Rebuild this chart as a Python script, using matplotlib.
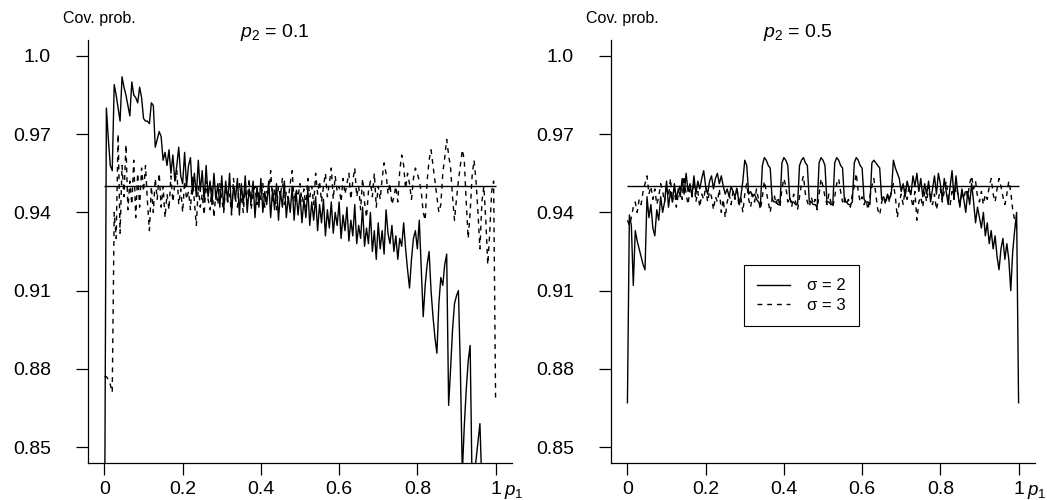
import numpy as np
import matplotlib
matplotlib.use("Agg")
import matplotlib.pyplot as plt

plt.rcParams['font.family'] = ['Liberation Sans', 'DejaVu Sans']
plt.rcParams['mathtext.fontset'] = 'custom'
plt.rcParams['mathtext.rm'] = 'Liberation Sans'
plt.rcParams['mathtext.it'] = 'Liberation Sans:italic'

# grid of p1 values (step 0.005)
p1 = np.round(np.arange(201) * 0.005, 3)

# coverage probability, p2 = 0.1
left_sig2 = [
    0.800, 0.980, 0.968, 0.958, 0.956, 0.989, 0.985, 0.980, 0.975, 0.992, 0.988, 0.985, 0.981, 0.977, 0.990, 0.985, 0.984, 0.982, 0.988, 0.984,
    0.976, 0.975, 0.975, 0.974, 0.982, 0.981, 0.965, 0.968, 0.971, 0.969, 0.960, 0.963, 0.958, 0.964, 0.955, 0.962, 0.952, 0.958, 0.965, 0.954,
    0.951, 0.963, 0.950, 0.958, 0.961, 0.947, 0.955, 0.946, 0.960, 0.948, 0.956, 0.944, 0.958, 0.946, 0.952, 0.943, 0.955, 0.945, 0.951, 0.942,
    0.954, 0.941, 0.952, 0.944, 0.955, 0.940, 0.950, 0.945, 0.953, 0.939, 0.951, 0.943, 0.954, 0.940, 0.949, 0.944, 0.952, 0.938, 0.950, 0.942,
    0.953, 0.940, 0.948, 0.943, 0.952, 0.938, 0.949, 0.941, 0.951, 0.937, 0.948, 0.942, 0.952, 0.938, 0.946, 0.940, 0.950, 0.937, 0.948, 0.939,
    0.947, 0.936, 0.945, 0.938, 0.949, 0.935, 0.944, 0.937, 0.946, 0.933, 0.943, 0.936, 0.945, 0.931, 0.941, 0.934, 0.944, 0.932, 0.940, 0.935,
    0.944, 0.930, 0.939, 0.933, 0.942, 0.929, 0.937, 0.931, 0.943, 0.928, 0.935, 0.930, 0.942, 0.927, 0.934, 0.928, 0.940, 0.925, 0.933, 0.922,
    0.936, 0.926, 0.933, 0.924, 0.941, 0.932, 0.928, 0.935, 0.925, 0.931, 0.922, 0.930, 0.927, 0.936, 0.926, 0.918, 0.911, 0.922, 0.930, 0.933,
    0.926, 0.937, 0.918, 0.900, 0.912, 0.920, 0.925, 0.910, 0.900, 0.892, 0.886, 0.905, 0.915, 0.912, 0.920, 0.924, 0.866, 0.880, 0.895, 0.905,
    0.908, 0.910, 0.880, 0.840, 0.858, 0.872, 0.883, 0.889, 0.835, 0.840, 0.845, 0.852, 0.859, 0.835, 0.820, 0.820, 0.820, 0.820, 0.820, 0.820,
    0.800,
]
left_sig3 = [
    0.877, 0.877, 0.876, 0.874, 0.871, 0.940, 0.930, 0.970, 0.932, 0.958, 0.946, 0.966, 0.941, 0.952, 0.943, 0.960, 0.938, 0.955, 0.942, 0.957,
    0.948, 0.958, 0.944, 0.933, 0.950, 0.940, 0.953, 0.945, 0.955, 0.942, 0.950, 0.938, 0.947, 0.941, 0.954, 0.944, 0.951, 0.956, 0.943, 0.949,
    0.940, 0.952, 0.945, 0.948, 0.941, 0.954, 0.944, 0.935, 0.950, 0.942, 0.947, 0.939, 0.952, 0.945, 0.941, 0.950, 0.938, 0.948, 0.943, 0.951,
    0.945, 0.940, 0.950, 0.944, 0.947, 0.939, 0.953, 0.945, 0.942, 0.951, 0.946, 0.940, 0.949, 0.944, 0.953, 0.941, 0.947, 0.950, 0.943, 0.948,
    0.945, 0.951, 0.942, 0.948, 0.946, 0.956, 0.944, 0.949, 0.941, 0.950, 0.946, 0.953, 0.943, 0.948, 0.945, 0.951, 0.956, 0.944, 0.949, 0.946,
    0.951, 0.944, 0.949, 0.942, 0.953, 0.946, 0.950, 0.943, 0.955, 0.947, 0.952, 0.944, 0.950, 0.955, 0.946, 0.951, 0.957, 0.945, 0.954, 0.948,
    0.950, 0.944, 0.953, 0.947, 0.951, 0.955, 0.945, 0.952, 0.957, 0.946, 0.950, 0.941, 0.953, 0.944, 0.938, 0.948, 0.952, 0.946, 0.955, 0.942,
    0.950, 0.945, 0.953, 0.959, 0.955, 0.947, 0.951, 0.943, 0.946, 0.950, 0.944, 0.956, 0.962, 0.958, 0.949, 0.955, 0.951, 0.945, 0.953, 0.957,
    0.955, 0.952, 0.948, 0.940, 0.937, 0.952, 0.960, 0.964, 0.958, 0.952, 0.946, 0.940, 0.943, 0.955, 0.961, 0.968, 0.962, 0.957, 0.946, 0.937,
    0.945, 0.952, 0.958, 0.964, 0.960, 0.944, 0.930, 0.940, 0.954, 0.960, 0.952, 0.940, 0.926, 0.944, 0.950, 0.937, 0.920, 0.932, 0.948, 0.952,
    0.869,
]

# coverage probability, p2 = 0.5
right_sig2 = [
    0.867, 0.939, 0.935, 0.912, 0.933, 0.929, 0.926, 0.923, 0.920, 0.918, 0.946, 0.938, 0.943, 0.934, 0.931, 0.941, 0.937, 0.946, 0.940, 0.944,
    0.952, 0.942, 0.948, 0.944, 0.951, 0.945, 0.949, 0.946, 0.953, 0.947, 0.955, 0.948, 0.951, 0.946, 0.954, 0.947, 0.952, 0.949, 0.953, 0.956,
    0.950, 0.947, 0.952, 0.954, 0.949, 0.953, 0.955, 0.951, 0.954, 0.950, 0.947, 0.949, 0.946, 0.950, 0.948, 0.946, 0.949, 0.944, 0.946, 0.952,
    0.960, 0.958, 0.947, 0.948, 0.946, 0.947, 0.945, 0.944, 0.943, 0.958, 0.961, 0.960, 0.958, 0.957, 0.945, 0.944, 0.944, 0.943, 0.943, 0.959,
    0.961, 0.960, 0.958, 0.945, 0.944, 0.944, 0.943, 0.943, 0.958, 0.960, 0.961, 0.959, 0.958, 0.944, 0.944, 0.943, 0.943, 0.942, 0.959, 0.961,
    0.960, 0.958, 0.944, 0.944, 0.943, 0.943, 0.959, 0.961, 0.960, 0.958, 0.957, 0.944, 0.944, 0.943, 0.943, 0.944, 0.959, 0.961, 0.960, 0.958,
    0.957, 0.945, 0.944, 0.944, 0.943, 0.959, 0.960, 0.959, 0.958, 0.957, 0.945, 0.946, 0.944, 0.947, 0.945, 0.948, 0.960, 0.957, 0.955, 0.953,
    0.948, 0.951, 0.946, 0.952, 0.949, 0.947, 0.954, 0.950, 0.955, 0.948, 0.953, 0.946, 0.951, 0.947, 0.952, 0.944, 0.949, 0.954, 0.947, 0.955,
    0.951, 0.945, 0.953, 0.948, 0.943, 0.950, 0.956, 0.945, 0.954, 0.947, 0.942, 0.949, 0.945, 0.940, 0.948, 0.943, 0.951, 0.944, 0.936, 0.942,
    0.938, 0.934, 0.940, 0.931, 0.936, 0.928, 0.933, 0.926, 0.931, 0.923, 0.918, 0.926, 0.930, 0.922, 0.928, 0.922, 0.910, 0.925, 0.933, 0.940,
    0.867,
]
right_sig3 = [
    0.937, 0.935, 0.938, 0.942, 0.944, 0.940, 0.945, 0.943, 0.948, 0.951, 0.954, 0.947, 0.950, 0.945, 0.949, 0.943, 0.946, 0.951, 0.948, 0.944,
    0.950, 0.946, 0.953, 0.944, 0.949, 0.942, 0.947, 0.951, 0.945, 0.954, 0.947, 0.943, 0.949, 0.946, 0.952, 0.944, 0.948, 0.942, 0.947, 0.945,
    0.950, 0.944, 0.948, 0.946, 0.941, 0.946, 0.944, 0.949, 0.940, 0.945, 0.938, 0.944, 0.947, 0.943, 0.948, 0.945, 0.950, 0.942, 0.946, 0.940,
    0.947, 0.951, 0.945, 0.942, 0.947, 0.944, 0.949, 0.945, 0.941, 0.946, 0.952, 0.948, 0.944, 0.940, 0.945, 0.947, 0.943, 0.946, 0.942, 0.949,
    0.953, 0.950, 0.944, 0.946, 0.942, 0.947, 0.944, 0.941, 0.946, 0.951, 0.954, 0.947, 0.944, 0.942, 0.946, 0.943, 0.945, 0.941, 0.947, 0.953,
    0.950, 0.946, 0.943, 0.947, 0.944, 0.942, 0.946, 0.951, 0.953, 0.948, 0.944, 0.946, 0.943, 0.945, 0.942, 0.947, 0.950, 0.955, 0.948, 0.944,
    0.946, 0.943, 0.945, 0.941, 0.946, 0.950, 0.953, 0.947, 0.941, 0.939, 0.944, 0.946, 0.943, 0.947, 0.944, 0.948, 0.951, 0.946, 0.938, 0.944,
    0.947, 0.943, 0.949, 0.945, 0.950, 0.946, 0.942, 0.948, 0.937, 0.944, 0.946, 0.942, 0.948, 0.944, 0.950, 0.946, 0.943, 0.947, 0.941, 0.945,
    0.949, 0.944, 0.948, 0.952, 0.946, 0.943, 0.948, 0.945, 0.950, 0.947, 0.943, 0.948, 0.945, 0.949, 0.946, 0.951, 0.954, 0.949, 0.952, 0.946,
    0.944, 0.948, 0.943, 0.947, 0.945, 0.950, 0.953, 0.947, 0.944, 0.949, 0.953, 0.950, 0.946, 0.943, 0.947, 0.952, 0.948, 0.941, 0.937, 0.934,
    0.934,
]

panels = [("$p_2$ = 0.1", left_sig2, left_sig3), ("$p_2$ = 0.5", right_sig2, right_sig3)]
nominal = 0.95
yticks = [0.85, 0.88, 0.91, 0.94, 0.97, 1.0]
ytick_labels = ["0.85", "0.88", "0.91", "0.94", "0.97", "1.0"]
xticks = [0, 0.2, 0.4, 0.6, 0.8, 1]
xtick_labels = ["0", "0.2", "0.4", "0.6", "0.8", "1"]

W, H = 1047, 500
fig = plt.figure(figsize=(W / 100, H / 100), dpi=100)
lefts = [88, 611]

for i, (title, s2, s3) in enumerate(panels):
    ax = fig.add_axes([lefts[i] / W, 37 / H, 424 / W, 423 / H])
    ax.plot(p1, s2, color="black", lw=1.0, label="σ = 2")
    ax.plot(p1, s3, color="black", lw=1.0, ls=(0, (3.5, 3.5)), label="σ = 3")
    ax.hlines(nominal, 0, 1, color="black", lw=1.0)
    ax.set_xlim(-0.042, 1.042)
    ax.set_ylim(0.8439, 1.0061)
    ax.set_yticks(yticks)
    ax.set_yticklabels(ytick_labels)
    ax.set_xticks(xticks)
    ax.set_xticklabels(xtick_labels)
    ax.tick_params(axis="y", length=8.6, width=0.9, pad=18, labelsize=14)
    ax.tick_params(axis="x", length=8.6, width=0.9, pad=4, labelsize=14)
    for side in ["top", "right"]:
        ax.spines[side].set_visible(False)
    for side in ["left", "bottom"]:
        ax.spines[side].set_linewidth(0.9)
    ax.text(-0.06, 1.04, "Cov. prob.", transform=ax.transAxes, fontsize=11.5,
            ha="left", va="baseline")
    ax.text(0.44, 1.008, title, transform=ax.transAxes, fontsize=14,
            ha="center", va="baseline")
    ax.text(0.982, -0.076, "$p_1$", transform=ax.transAxes, fontsize=13.5,
            ha="left", va="baseline")
    if i == 1:
        leg = ax.legend(loc="upper left", bbox_to_anchor=(0.313, 0.468), fontsize=12,
                        fancybox=False, framealpha=1, edgecolor="black",
                        handlelength=2.0, handletextpad=1.0, borderpad=0.8,
                        borderaxespad=0, labelspacing=0.25)
        leg.get_frame().set_linewidth(0.8)

fig.savefig("out.png", dpi=100)
